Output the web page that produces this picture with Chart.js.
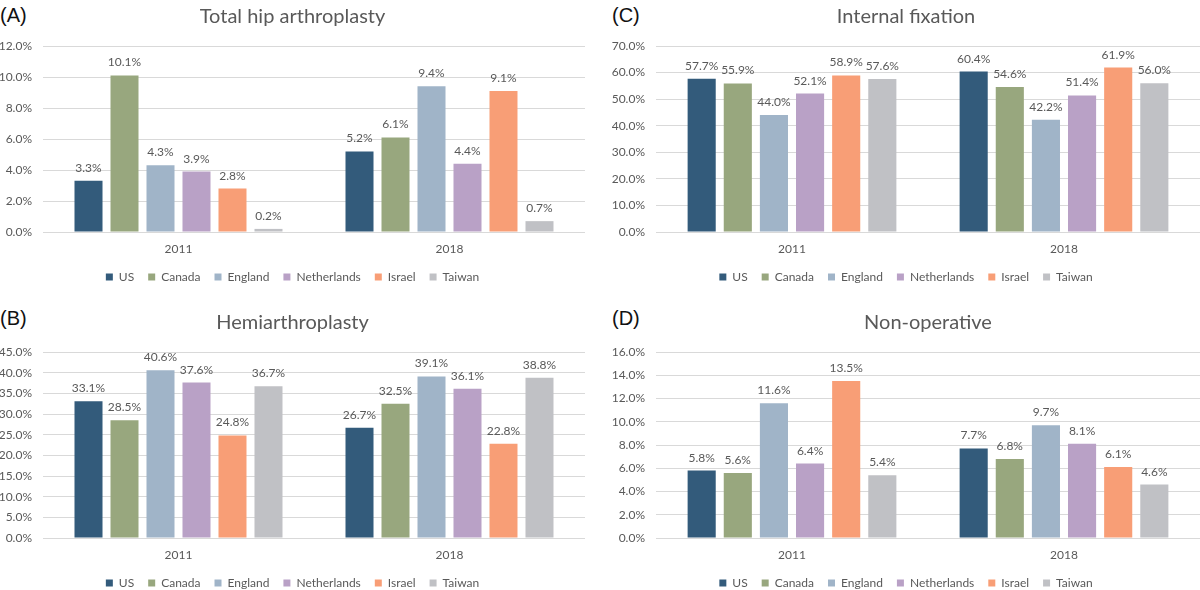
<!DOCTYPE html>
<html>
<head>
<meta charset="utf-8">
<script src="https://cdn.jsdelivr.net/npm/chart.js@4"></script>
<style>
  html, body { margin:0; padding:0; background:#fff; overflow:hidden; width:1200px; height:590px; }
  .panel { position:absolute; }
  .tag { position:absolute; font-family:"Liberation Sans", Arial, sans-serif; font-size:20px; line-height:20px; color:#111; }
</style>
</head>
<body>
<div class="tag" style="left:0px; top:5px;">(A)</div>
<div class="tag" style="left:612px; top:5px;">(C)</div>
<div class="tag" style="left:0px; top:308px;">(B)</div>
<div class="tag" style="left:612px; top:308px;">(D)</div>
<canvas id="cA" class="panel" width="590" height="293" style="left:0px; top:0px;"></canvas>
<canvas id="cC" class="panel" width="588" height="293" style="left:612px; top:0px;"></canvas>
<canvas id="cB" class="panel" width="590" height="293" style="left:0px; top:306px;"></canvas>
<canvas id="cD" class="panel" width="588" height="293" style="left:612px; top:306px;"></canvas>
<script>
// ---- data ----
const categories = ['2011', '2018'];
const countries = ['US', 'Canada', 'England', 'Netherlands', 'Israel', 'Taiwan'];

const tha2011 = [3.3, 10.1, 4.3, 3.9, 2.8, 0.2];
const tha2018 = [5.2, 6.1, 9.4, 4.4, 9.1, 0.7];

const hemi2011 = [33.1, 28.5, 40.6, 37.6, 24.8, 36.7];
const hemi2018 = [26.7, 32.5, 39.1, 36.1, 22.8, 38.8];

const fix2011 = [57.7, 55.9, 44.0, 52.1, 58.9, 57.6];
const fix2018 = [60.4, 54.6, 42.2, 51.4, 61.9, 56.0];

const nonop2011 = [5.8, 5.6, 11.6, 6.4, 13.5, 5.4];
const nonop2018 = [7.7, 6.8, 9.7, 8.1, 6.1, 4.6];

const ticksA = [0, 2, 4, 6, 8, 10, 12];
const ticksB = [0, 5, 10, 15, 20, 25, 30, 35, 40, 45];
const ticksC = [0, 10, 20, 30, 40, 50, 60, 70];
const ticksD = [0, 2, 4, 6, 8, 10, 12, 14, 16];

const titles = ['Total hip arthroplasty', 'Hemiarthroplasty', 'Internal fixation', 'Non-operative'];

// ---- style ----
const colors = ['#335b7b', '#98a77e', '#a0b4c8', '#b9a1c6', '#f89e76', '#c0c1c5'];
const FONT = 'Lato, "Open Sans", sans-serif';
const GREY = '#595959';

const valueLabels = {
  id: 'valueLabels',
  afterDatasetsDraw(chart) {
    const ctx = chart.ctx;
    ctx.save();
    ctx.font = '12px ' + FONT;
    ctx.fillStyle = GREY;
    ctx.textAlign = 'center';
    ctx.textBaseline = 'alphabetic';
    chart.data.datasets.forEach((ds, i) => {
      const meta = chart.getDatasetMeta(i);
      meta.data.forEach((bar, j) => {
        ctx.fillText(ds.data[j].toFixed(1) + '%', bar.x, bar.y - 9);
      });
    });
    ctx.restore();
  }
};

function makeChart(id, title, v2011, v2018, tickVals, axisWidth, padRight, titleFull) {
  const datasets = countries.map((c, i) => ({
    label: c,
    data: [v2011[i], v2018[i]],
    backgroundColor: colors[i],
    categoryPercentage: 0.797,
    barPercentage: 0.778
  }));
  return new Chart(document.getElementById(id), {
    type: 'bar',
    data: { labels: categories, datasets },
    plugins: [valueLabels],
    options: {
      responsive: false,
      animation: false,
      devicePixelRatio: 1,
      layout: { padding: { left: 0, right: padRight, top: 0, bottom: 0 } },
      plugins: {
        tooltip: { enabled: false },
        title: {
          display: true,
          text: title,
          color: GREY,
          fullSize: titleFull,
          font: { family: FONT, size: 20, weight: 'normal' },
          padding: { top: 5, bottom: 17 }
        },
        legend: {
          position: 'bottom',
          labels: {
            boxWidth: 7,
            boxHeight: 7,
            padding: 14,
            color: GREY,
            font: { family: FONT, size: 12 }
          }
        }
      },
      scales: {
        x: {
          grid: { display: false, drawTicks: true, tickLength: 9 },
          border: { display: false },
          ticks: { color: GREY, font: { family: FONT, size: 12 }, padding: 0.8 }
        },
        y: {
          min: tickVals[0],
          max: tickVals[tickVals.length - 1],
          grid: { color: '#d9d9d9', lineWidth: 1, drawTicks: false },
          border: { display: false },
          afterBuildTicks: (scale) => { scale.ticks = tickVals.map(v => ({ value: v })); },
          afterFit: (scale) => { scale.width = axisWidth; },
          ticks: {
            color: GREY,
            padding: 11,
            font: { family: FONT, size: 12 },
            callback: (v) => Number(v).toFixed(1) + '%'
          }
        }
      }
    }
  });
}

makeChart('cA', titles[0], tha2011, tha2018, ticksA, 43, 5, true);
makeChart('cB', titles[1], hemi2011, hemi2018, ticksB, 43, 5, true);
makeChart('cC', titles[2], fix2011, fix2018, ticksC, 44, 0, true);
makeChart('cD', titles[3], nonop2011, nonop2018, ticksD, 44, 0, false);
</script>
</body>
</html>
